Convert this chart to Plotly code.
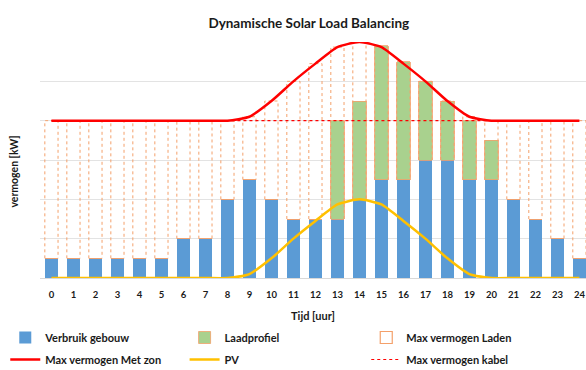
import plotly.graph_objects as go

# Hourly values (kW, in grid units)
hours = list(range(25))
verbruik_gebouw = [0.5, 0.5, 0.5, 0.5, 0.5, 0.5, 1.0, 1.0, 2.0, 2.5, 2.0, 1.5, 1.5,
                   1.5, 2.0, 2.5, 2.5, 3.0, 3.0, 2.5, 2.5, 2.0, 1.5, 1.0, 0.5]
laadprofiel = [0, 0, 0, 0, 0, 0, 0, 0, 0, 0, 0, 0, 0,
               2.5, 2.5, 3.4, 3.0, 2.0, 1.5, 1.5, 1.0, 0, 0, 0, 0]
pv = [0, 0, 0, 0, 0, 0, 0, 0, 0, 0.1, 0.5, 1.0, 1.45,
      1.87, 2.0, 1.87, 1.45, 1.0, 0.5, 0.1, 0, 0, 0, 0, 0]
max_kabel = [4.0] * 25
max_met_zon = [k + p for k, p in zip(max_kabel, pv)]

BLUE = "#5b9bd5"
GREEN = "#a9d18e"
RED = "#ff0000"
YELLOW = "#ffc000"
ORANGE = "#f4a06a"
BAR_W = 0.6

fig = go.Figure()

fig.add_trace(go.Bar(x=hours, y=verbruik_gebouw, name="Verbruik gebouw",
                     legend="legend", legendgroup="a",
                     marker=dict(color=BLUE, line=dict(width=0)), width=BAR_W))
fig.add_trace(go.Bar(x=hours, y=laadprofiel, name="Laadprofiel",
                     legend="legend2", legendgroup="c",
                     marker=dict(color=GREEN, line=dict(color=ORANGE, width=0.8)),
                     width=BAR_W))
# Legend entry for the charging headroom boxes
fig.add_trace(go.Bar(x=[None], y=[None], name="Max vermogen Laden",
                     legend="legend3", legendgroup="e",
                     marker=dict(color="white", line=dict(color=ORANGE, width=1.2))))

# Dotted outline of the charging headroom: from the building load up to the cap
bx, by = [], []
for h, b, cap in zip(hours, verbruik_gebouw, max_met_zon):
    x0, x1 = h - BAR_W / 2, h + BAR_W / 2
    bx += [x0, x0, x1, x1, None]
    by += [b, cap, cap, b, None]
fig.add_trace(go.Scatter(x=bx, y=by, mode="lines", showlegend=False, hoverinfo="skip",
                         line=dict(color=ORANGE, width=1, dash="dot")))

fig.add_trace(go.Scatter(x=hours, y=max_kabel, name="Max vermogen kabel", mode="lines",
                         showlegend=False, hoverinfo="skip",
                         line=dict(color=RED, width=1.2, dash="dot")))
fig.add_trace(go.Scatter(x=hours, y=max_met_zon, name="Max vermogen Met zon", mode="lines",
                         legend="legend", legendgroup="b",
                         line=dict(color=RED, width=2.5, shape="spline", smoothing=0.55)))
fig.add_trace(go.Scatter(x=hours, y=pv, name="PV", mode="lines",
                         legend="legend2", legendgroup="d",
                         line=dict(color=YELLOW, width=2.5, shape="spline", smoothing=0.55)))
# Legend entry for the cable limit (the line itself is drawn below the solar cap)
fig.add_trace(go.Scatter(x=[None], y=[None], name="Max vermogen kabel", mode="lines",
                         legend="legend3", legendgroup="f",
                         line=dict(color=RED, width=1.2, dash="dot")))

legend_style = dict(orientation="v", xref="container", yref="container",
                    y=0.127, xanchor="left", yanchor="top",
                    traceorder="grouped", font=dict(size=11), itemwidth=30,
                    tracegroupgap=3, bgcolor="rgba(0,0,0,0)")

fig.update_layout(
    width=586, height=370,
    margin=dict(l=40, r=0, t=42, b=92, autoexpand=False),
    paper_bgcolor="white", plot_bgcolor="white",
    font=dict(family="Lato, Open Sans, sans-serif", size=10, color="#1a1a1a", weight="bold"),
    barmode="stack", bargap=0.4,
    title=dict(text="Dynamische Solar Load Balancing", x=0.527, xanchor="center",
               y=0.937, yanchor="middle", font=dict(size=13.5, weight="bold")),
    xaxis=dict(range=[-0.52, 24.3], tickmode="array", tickvals=hours,
               ticktext=[str(h) for h in hours], showgrid=False, zeroline=False,
               showline=False, ticks="outside", ticklen=8, tickcolor="rgba(0,0,0,0)",
               tickfont=dict(size=9.5),
               title=dict(text="Tijd [uur]", standoff=12, font=dict(size=11))),
    yaxis=dict(range=[0, 6], dtick=1, showticklabels=False, gridcolor="#e3e3e3",
               zeroline=True, zerolinecolor="#d9d9d9", zerolinewidth=1),
    annotations=[dict(text="vermogen [kW]", textangle=-90, showarrow=False,
                      xref="paper", yref="paper", x=-0.048, y=0.45,
                      xanchor="center", yanchor="middle",
                      font=dict(size=10.5, weight="bold"))],
    legend=dict(legend_style, x=0.009),
    legend2=dict(legend_style, x=0.315),
    legend3=dict(legend_style, x=0.625),
    showlegend=True,
)

fig.write_html("out.html")
